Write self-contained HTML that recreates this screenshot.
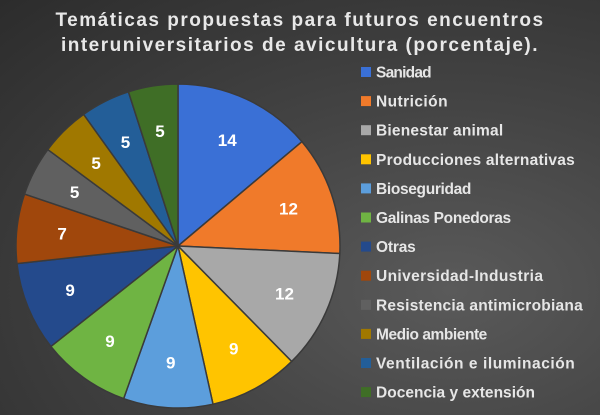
<!DOCTYPE html>
<html><head><meta charset="utf-8"><style>
body{margin:0;width:600px;height:415px;overflow:hidden;font-family:"Liberation Sans",sans-serif;}
#wrap{position:relative;width:600px;height:415px;background:radial-gradient(ellipse at 75% 70%,#5a5a5a 0%,#444 45%,#2c2c2c 100%);}
.title{position:absolute;left:0;width:600px;top:8px;text-align:center;color:#e8e8e8;font-weight:bold;font-size:19px;letter-spacing:1.5px;line-height:25px;}
</style></head><body>
<div id="wrap">
<div class="title">Temáticas propuestas para futuros encuentros<br>interuniversitarios de avicultura (porcentaje).</div>
<svg id="svg" width="600" height="415" style="position:absolute;left:0;top:0"></svg>
</div>
<script>
const categories=["Sanidad","Nutrición","Bienestar animal","Producciones alternativas","Bioseguridad","Galinas Ponedoras","Otras","Universidad-Industria","Resistencia antimicrobiana","Medio ambiente","Ventilación e iluminación","Docencia y extensión"];
const values=[14,12,12,9,9,9,9,7,5,5,5,5];
const colors=["#3A70D6","#F07A2A","#A8A8A8","#FFC400","#5C9EDC","#6FB443","#244A8C","#A0470C","#606060","#A07800","#235E98","#3F6E26"];
const NS="http://www.w3.org/2000/svg";
const svg=document.getElementById('svg');
const cx=178,cy=246,r=162;
const total=values.reduce((a,b)=>a+b,0);
let a0=-Math.PI/2;
values.forEach((v,i)=>{
  const a1=a0+v/total*2*Math.PI;
  const x0=cx+r*Math.cos(a0),y0=cy+r*Math.sin(a0),x1=cx+r*Math.cos(a1),y1=cy+r*Math.sin(a1);
  const p=document.createElementNS(NS,'path');
  p.setAttribute('d',`M${cx},${cy}L${x0},${y0}A${r},${r} 0 ${a1-a0>Math.PI?1:0} 1 ${x1},${y1}Z`);
  p.setAttribute('fill',colors[i]);p.setAttribute('stroke','#3a3a3a');p.setAttribute('stroke-width','1.5');
  
  
  svg.appendChild(p);
  const am=(a0+a1)/2;
  const t=document.createElementNS(NS,'text');
  t.setAttribute('x',cx+r*0.72*Math.cos(am));t.setAttribute('y',cy+r*0.72*Math.sin(am)+6);
  t.setAttribute('text-anchor','middle');t.setAttribute('fill','#fff');t.setAttribute('font-size','17');t.setAttribute('font-weight','bold');
  t.setAttribute('font-family','Liberation Sans, sans-serif');
  t.textContent=v;
  
  
  svg.appendChild(t);
  a0=a1;
});
categories.forEach((c,i)=>{
  const y=72+i*29.1;
  const g=document.createElementNS(NS,'g');
  
  
  const rc=document.createElementNS(NS,'rect');
  rc.setAttribute('x',361);rc.setAttribute('y',y-5);rc.setAttribute('width',10);rc.setAttribute('height',10);rc.setAttribute('fill',colors[i]);
  g.appendChild(rc);
  const t=document.createElementNS(NS,'text');
  t.setAttribute('x',376);t.setAttribute('y',y+5.5);t.setAttribute('fill','#e6e6e6');t.setAttribute('font-size','15.5');t.setAttribute('font-weight','bold');
  t.setAttribute('font-family','Liberation Sans, sans-serif');
  t.setAttribute('textLength',String(c.length*7.95));
  t.textContent=c;
  g.appendChild(t);
  svg.appendChild(g);
});
</script>
</body></html>
